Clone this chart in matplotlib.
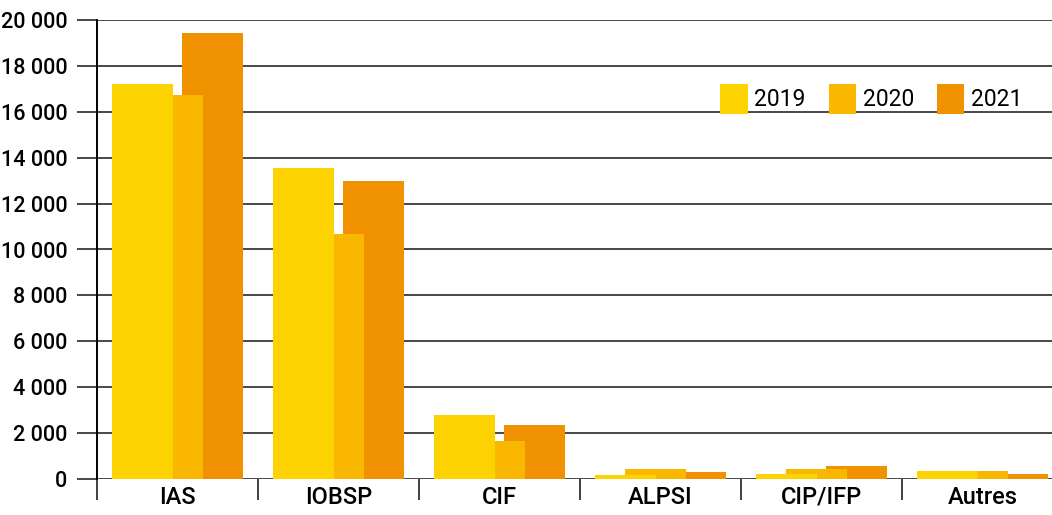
import numpy as np
import matplotlib
matplotlib.use("Agg")
import matplotlib.pyplot as plt
from matplotlib.ticker import FuncFormatter

categories = ["IAS", "IOBSP", "CIF", "ALPSI", "CIP/IFP", "Autres"]
years = ["2019", "2020", "2021"]
v2019 = [17230, 13540, 2810, 175, 220, 350]
v2020 = [16750, 10670, 1660, 440, 440, 350]
v2021 = [19430, 12980, 2340, 305, 570, 220]
yticks = list(range(0, 20001, 2000))

colors = {"2019": "#FCD200", "2020": "#F9B700", "2021": "#F09200"}

plt.rcParams['font.family'] = ['Roboto', 'DejaVu Sans']

fig = plt.figure(figsize=(10.52, 5.15), dpi=100)
# axes spans 6 categories of 161 px; the right edge runs past the figure
ax = fig.add_axes([97 / 1052, 1 - 479 / 515, 966 / 1052, 459 / 515])

x = np.arange(len(categories))
w = 0.379
# 2021 behind, 2019 in front (bars overlap)
ax.bar(x + 0.22, v2021, width=w, color=colors["2021"], zorder=2, label="2021")
ax.bar(x - 0.031, v2020, width=w, color=colors["2020"], zorder=3, label="2020")
ax.bar(x - 0.22, v2019, width=w, color=colors["2019"], zorder=4, label="2019")

ax.set_xlim(-0.5, len(categories) - 0.5)
ax.set_ylim(0, 20000)
ax.set_yticks(yticks)
ax.yaxis.set_major_formatter(FuncFormatter(lambda v, p: f"{int(v):,}".replace(",", " ")))
ax.grid(axis="y", color="#484848", lw=1.4)
ax.set_axisbelow(True)

ax.set_xticks(x)
ax.set_xticklabels(categories, fontsize=17, fontweight="medium")
ax.set_xticks(np.arange(len(categories) + 1) - 0.5, minor=True)
ax.tick_params(axis="x", which="major", length=0, pad=5)
ax.tick_params(axis="x", which="minor", length=15, width=1.3, color="#333333")
ax.tick_params(axis="y", length=14.5, width=1.4, color="#484848", labelsize=15.5, pad=7)
for t in ax.get_yticklabels():
    t.set_fontweight("medium")

for s in ["top", "right", "bottom"]:
    ax.spines[s].set_visible(False)
ax.spines["left"].set_linewidth(1.4)

h, l = ax.get_legend_handles_labels()
ax.legend(h[::-1], l[::-1], ncol=3, loc="upper left", bbox_to_anchor=(0.624, 0.905),
          frameon=False, handlelength=1.2, handleheight=1.6,
          handletextpad=0.28, columnspacing=1.0, prop={'family': 'Roboto', 'size': 16.5})

fig.savefig("out.png", dpi=100)
